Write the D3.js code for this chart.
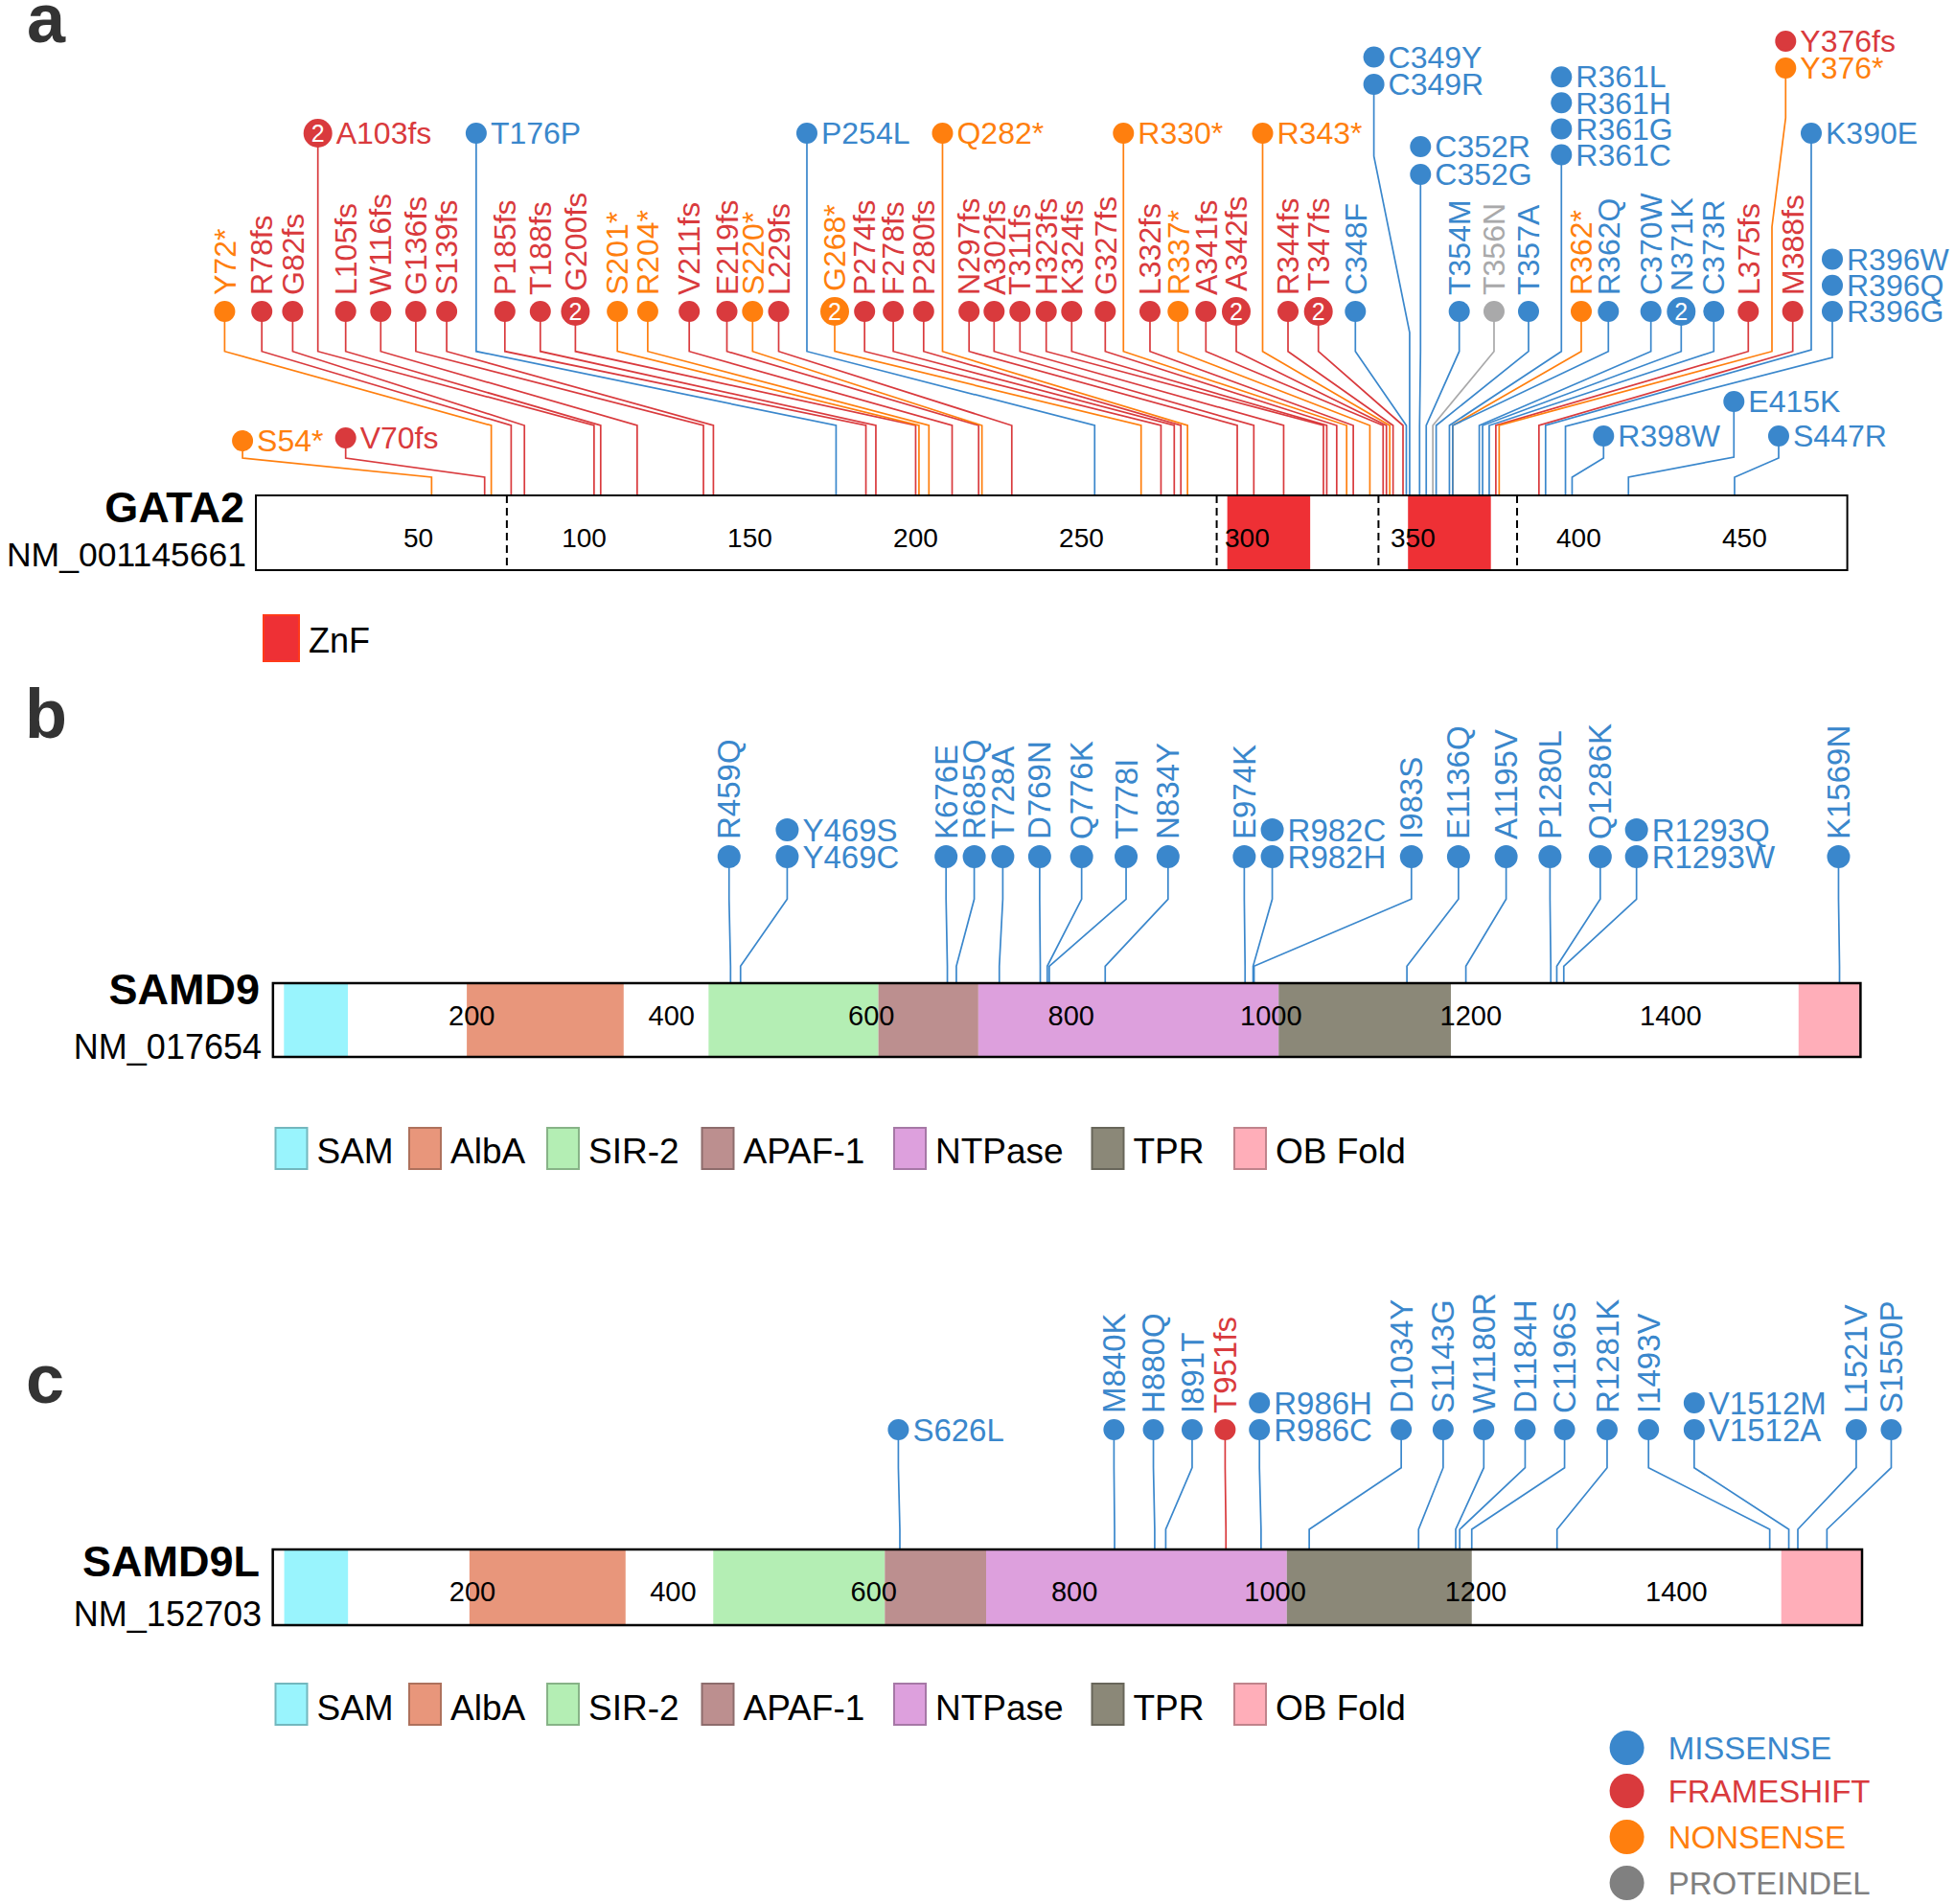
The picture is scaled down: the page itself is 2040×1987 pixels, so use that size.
<!DOCTYPE html>
<html><head><meta charset="utf-8">
<script src="https://cdn.jsdelivr.net/npm/d3@7"></script>
<style>
body{margin:0;background:#fff}
svg{display:block}
text{font-family:"Liberation Sans",Arial,Helvetica,sans-serif}
</style>
</head><body>
<svg id="chart" width="2040" height="1987"></svg>
<script>
// ================= DATA =================
const mutationTypes = ["MISSENSE", "FRAMESHIFT", "NONSENSE", "PROTEINDEL"];

// ---- GATA2 (NM_001145661) ----
const gata2Length = 480;
const gata2Ticks = [50, 100, 150, 200, 250, 300, 350, 400, 450];
const gata2Domains = [["ZnF", 294, 319], ["ZnF", 348.5, 373.5]];
const gata2ExonBreaks = [76.7, 290.8, 339.6, 381.4];
// [label, amino-acid position, type, number of cases]
const gata2Mutations = [
  ["S54*", 54, "NONSENSE", 1], ["V70fs", 70, "FRAMESHIFT", 1], ["Y72*", 72, "NONSENSE", 1],
  ["R78fs", 78, "FRAMESHIFT", 1], ["G82fs", 82, "FRAMESHIFT", 1], ["A103fs", 103, "FRAMESHIFT", 2],
  ["L105fs", 105, "FRAMESHIFT", 1], ["W116fs", 116, "FRAMESHIFT", 1], ["G136fs", 136, "FRAMESHIFT", 1],
  ["S139fs", 139, "FRAMESHIFT", 1], ["T176P", 176, "MISSENSE", 1], ["P185fs", 185, "FRAMESHIFT", 1],
  ["T188fs", 188, "FRAMESHIFT", 1], ["G200fs", 200, "FRAMESHIFT", 2], ["S201*", 201, "NONSENSE", 1],
  ["R204*", 204, "NONSENSE", 1], ["V211fs", 211, "FRAMESHIFT", 1], ["E219fs", 219, "FRAMESHIFT", 1],
  ["S220*", 220, "NONSENSE", 1], ["L229fs", 229, "FRAMESHIFT", 1], ["P254L", 254, "MISSENSE", 1],
  ["G268*", 268, "NONSENSE", 2], ["P274fs", 274, "FRAMESHIFT", 1], ["F278fs", 278, "FRAMESHIFT", 1],
  ["P280fs", 280, "FRAMESHIFT", 1], ["Q282*", 282, "NONSENSE", 1], ["N297fs", 297, "FRAMESHIFT", 1],
  ["A302fs", 302, "FRAMESHIFT", 1], ["T311fs", 311, "FRAMESHIFT", 1], ["H323fs", 323, "FRAMESHIFT", 1],
  ["K324fs", 324, "FRAMESHIFT", 1], ["G327fs", 327, "FRAMESHIFT", 1], ["R330*", 330, "NONSENSE", 1],
  ["L332fs", 332, "FRAMESHIFT", 1], ["R337*", 337, "NONSENSE", 1], ["A341fs", 341, "FRAMESHIFT", 1],
  ["A342fs", 342, "FRAMESHIFT", 2], ["R343*", 343, "NONSENSE", 1], ["R344fs", 344, "FRAMESHIFT", 1],
  ["T347fs", 347, "FRAMESHIFT", 2], ["C348F", 348, "MISSENSE", 1], ["C349Y", 349, "MISSENSE", 1],
  ["C349R", 349, "MISSENSE", 1], ["C352R", 352, "MISSENSE", 1], ["C352G", 352, "MISSENSE", 1],
  ["T354M", 354, "MISSENSE", 1], ["T356N", 356, "PROTEINDEL", 1], ["T357A", 357, "MISSENSE", 1],
  ["R361L", 361, "MISSENSE", 1], ["R361H", 361, "MISSENSE", 1], ["R361G", 361, "MISSENSE", 1],
  ["R361C", 361, "MISSENSE", 1], ["R362*", 362, "NONSENSE", 1], ["R362Q", 362, "MISSENSE", 1],
  ["C370W", 370, "MISSENSE", 1], ["N371K", 371, "MISSENSE", 2], ["C373R", 373, "MISSENSE", 1],
  ["L375fs", 375, "FRAMESHIFT", 1], ["Y376fs", 376, "FRAMESHIFT", 1], ["Y376*", 376, "NONSENSE", 1],
  ["M388fs", 388, "FRAMESHIFT", 1], ["K390E", 390, "MISSENSE", 1], ["R396W", 396, "MISSENSE", 1],
  ["R396Q", 396, "MISSENSE", 1], ["R396G", 396, "MISSENSE", 1], ["R398W", 398, "MISSENSE", 1],
  ["E415K", 415, "MISSENSE", 1], ["S447R", 447, "MISSENSE", 1]
];

// ---- SAMD9 (NM_017654) ----
const samd9Length = 1589;
const samdTicks = [200, 400, 600, 800, 1000, 1200, 1400];
const samd9Domains = [["SAM", 12, 76], ["AlbA", 195, 352], ["SIR-2", 437, 607], ["APAF-1", 607, 707],
  ["NTPase", 707, 1007.6], ["TPR", 1007.6, 1180], ["OB Fold", 1528, 1590]];
const samd9Mutations = [
  ["R459Q", 459, "MISSENSE", 1], ["Y469S", 469, "MISSENSE", 1], ["Y469C", 469, "MISSENSE", 1],
  ["K676E", 676, "MISSENSE", 1], ["R685Q", 685, "MISSENSE", 1], ["T728A", 728, "MISSENSE", 1],
  ["D769N", 769, "MISSENSE", 1], ["Q776K", 776, "MISSENSE", 1], ["T778I", 778, "MISSENSE", 1],
  ["N834Y", 834, "MISSENSE", 1], ["E974K", 974, "MISSENSE", 1], ["R982C", 982, "MISSENSE", 1],
  ["R982H", 982, "MISSENSE", 1], ["I983S", 983, "MISSENSE", 1], ["E1136Q", 1136, "MISSENSE", 1],
  ["A1195V", 1195, "MISSENSE", 1], ["P1280L", 1280, "MISSENSE", 1], ["Q1286K", 1286, "MISSENSE", 1],
  ["R1293Q", 1293, "MISSENSE", 1], ["R1293W", 1293, "MISSENSE", 1], ["K1569N", 1569, "MISSENSE", 1]
];

// ---- SAMD9L (NM_152703) ----
const samd9lLength = 1584;
const samd9lDomains = [["SAM", 12.4, 76], ["AlbA", 197, 352.6], ["SIR-2", 440, 611], ["APAF-1", 611, 712],
  ["NTPase", 712, 1011.7], ["TPR", 1011.7, 1196], ["OB Fold", 1504.5, 1585]];
const samd9lMutations = [
  ["S626L", 626, "MISSENSE", 1], ["M840K", 840, "MISSENSE", 1], ["H880Q", 880, "MISSENSE", 1],
  ["I891T", 891, "MISSENSE", 1], ["T951fs", 951, "FRAMESHIFT", 1], ["R986H", 986, "MISSENSE", 1],
  ["R986C", 986, "MISSENSE", 1], ["D1034Y", 1034, "MISSENSE", 1], ["S1143G", 1143, "MISSENSE", 1],
  ["W1180R", 1180, "MISSENSE", 1], ["D1184H", 1184, "MISSENSE", 1], ["C1196S", 1196, "MISSENSE", 1],
  ["R1281K", 1281, "MISSENSE", 1], ["I1493V", 1493, "MISSENSE", 1], ["V1512M", 1512, "MISSENSE", 1],
  ["V1512A", 1512, "MISSENSE", 1], ["L1521V", 1521, "MISSENSE", 1], ["S1550P", 1550, "MISSENSE", 1]
];

const domainLegend = ["SAM", "AlbA", "SIR-2", "APAF-1", "NTPase", "TPR", "OB Fold"];

// ================= STYLE / LAYOUT =================
const typeColor = {MISSENSE: "#3a87cc", FRAMESHIFT: "#d93a3d", NONSENSE: "#ff7f0e", PROTEINDEL: "#a9a9aa"};
const legendColor = {MISSENSE: "#3a87cc", FRAMESHIFT: "#d93a3d", NONSENSE: "#ff7f0e", PROTEINDEL: "#808080"};
const domainColor = {"ZnF": "#ee3035", "SAM": "#99f4fd", "AlbA": "#e8967b", "SIR-2": "#b4eeb4",
  "APAF-1": "#bc8f8f", "NTPase": "#dda0dd", "TPR": "#8b8878", "OB Fold": "#ffaeb9"};

// label-head layout (head anchor expressed in protein coordinates, mapped by the same scale)
const gata2Layout = [
  // main row (rotated labels)
  {ids: ["Y72*"], at: -8.42, row: "main"}, {ids: ["R78fs"], at: 2.79, row: "main"},
  {ids: ["G82fs"], at: 12.10, row: "main"}, {ids: ["L105fs"], at: 28.08, row: "main"},
  {ids: ["W116fs"], at: 38.66, row: "main"}, {ids: ["G136fs"], at: 49.24, row: "main"},
  {ids: ["S139fs"], at: 58.55, row: "main"}, {ids: ["P185fs"], at: 76.10, row: "main"},
  {ids: ["T188fs"], at: 86.79, row: "main"}, {ids: ["G200fs"], at: 97.37, row: "main"},
  {ids: ["S201*"], at: 110.03, row: "main"}, {ids: ["R204*"], at: 119.19, row: "main"},
  {ids: ["V211fs"], at: 131.71, row: "main"}, {ids: ["E219fs"], at: 143.07, row: "main"},
  {ids: ["S220*"], at: 150.82, row: "main"}, {ids: ["L229fs"], at: 158.68, row: "main"},
  {ids: ["G268*"], at: 175.59, row: "main"}, {ids: ["P274fs"], at: 184.60, row: "main"},
  {ids: ["F278fs"], at: 193.25, row: "main"}, {ids: ["P280fs"], at: 202.41, row: "main"},
  {ids: ["N297fs"], at: 216.11, row: "main"}, {ids: ["A302fs"], at: 223.66, row: "main"},
  {ids: ["T311fs"], at: 231.46, row: "main"}, {ids: ["H323fs"], at: 239.38, row: "main"},
  {ids: ["K324fs"], at: 247.07, row: "main"}, {ids: ["G327fs"], at: 257.19, row: "main"},
  {ids: ["L332fs"], at: 270.68, row: "main"}, {ids: ["R337*"], at: 279.16, row: "main"},
  {ids: ["A341fs"], at: 287.54, row: "main"}, {ids: ["A342fs"], at: 296.70, row: "main"},
  {ids: ["R344fs"], at: 312.31, row: "main"}, {ids: ["T347fs"], at: 321.47, row: "main"},
  {ids: ["C348F"], at: 332.63, row: "main"}, {ids: ["T354M"], at: 363.96, row: "main"},
  {ids: ["T356N"], at: 374.45, row: "main"}, {ids: ["T357A"], at: 384.86, row: "main"},
  {ids: ["R362*"], at: 400.76, row: "main"}, {ids: ["R362Q"], at: 408.94, row: "main"},
  {ids: ["C370W"], at: 421.77, row: "main"}, {ids: ["N371K"], at: 430.91, row: "main"},
  {ids: ["C373R"], at: 440.73, row: "main"}, {ids: ["L375fs"], at: 451.14, row: "main"},
  {ids: ["M388fs"], at: 464.55, row: "main"},
  {ids: ["R396W", "R396Q", "R396G"], at: 476.49, row: "main", rot: false, gap: 27.3, y1: 373, y2: 445},
  // top row (horizontal labels)
  {ids: ["A103fs"], at: 19.70, row: "top"}, {ids: ["T176P"], at: 67.45, row: "top"},
  {ids: ["P254L"], at: 167.20, row: "top"}, {ids: ["Q282*"], at: 208.10, row: "top"},
  {ids: ["R330*"], at: 262.67, row: "top"}, {ids: ["R343*"], at: 304.65, row: "top"},
  {ids: ["K390E"], at: 470.13, row: "top", y1: 365},
  {ids: ["C349Y", "C349R"], at: 338.21, row: "top", hy: 88, gap: 28.5, y1: 163, y2: 347},
  {ids: ["C352R", "C352G"], at: 352.28, row: "top", hy: 182, gap: 29},
  {ids: ["R361L", "R361H", "R361G", "R361C"], at: 394.77, row: "top", hy: 161.5, gap: 27.1},
  {ids: ["Y376fs", "Y376*"], at: 462.41, row: "top", hy: 71, gap: 28,
   via: [[462.41, 123], [458.28, 236.7], [458.28, 366.7]]},
  // low row
  {ids: ["S54*"], at: -3.02, row: "low", hy: 460}, {ids: ["V70fs"], at: 28.08, row: "low", hy: 457},
  {ids: ["R398W"], at: 407.49, row: "low", hy: 455}, {ids: ["E415K"], at: 446.80, row: "low", hy: 419, y1: 477},
  {ids: ["S447R"], at: 460.30, row: "low", hy: 455}
];

const samd9Layout = [
  {ids: ["R459Q"], at: 457.5}, {ids: ["Y469S", "Y469C"], at: 515.7, rot: false},
  {ids: ["K676E"], at: 674.7}, {ids: ["R685Q"], at: 702.9}, {ids: ["T728A"], at: 731.5},
  {ids: ["D769N"], at: 768.4}, {ids: ["Q776K"], at: 810.4}, {ids: ["T778I"], at: 854.9},
  {ids: ["N834Y"], at: 896.9}, {ids: ["E974K"], at: 973.2}, {ids: ["R982C", "R982H"], at: 1001.2, rot: false},
  {ids: ["I983S"], at: 1140.5}, {ids: ["E1136Q"], at: 1187.6}, {ids: ["A1195V"], at: 1235.3},
  {ids: ["P1280L"], at: 1279.2}, {ids: ["Q1286K"], at: 1329.5},
  {ids: ["R1293Q", "R1293W"], at: 1365.8, rot: false}, {ids: ["K1569N"], at: 1568}
];

const samd9lLayout = [
  {ids: ["S626L"], at: 624.5, rot: false}, {ids: ["M840K"], at: 839.4}, {ids: ["H880Q"], at: 878.7},
  {ids: ["I891T"], at: 917.3}, {ids: ["T951fs"], at: 950.2}, {ids: ["R986H", "R986C"], at: 984.4, rot: false},
  {ids: ["D1034Y"], at: 1125.7}, {ids: ["S1143G"], at: 1167.5}, {ids: ["W1180R"], at: 1208},
  {ids: ["D1184H"], at: 1249.2}, {ids: ["C1196S"], at: 1288.5}, {ids: ["R1281K"], at: 1330.9},
  {ids: ["I1493V"], at: 1372.2}, {ids: ["V1512M", "V1512A"], at: 1417.7, rot: false},
  {ids: ["L1521V"], at: 1579.2}, {ids: ["S1550P"], at: 1614.1}
];

const svg = d3.select("#chart");

function drawPanel(p) {
  const x = p.scale;
  const g = svg.append("g");
  const byId = new Map(p.mutations.map(d => [d[0], {label: d[0], pos: d[1], type: d[2], count: d[3]}]));
  const gStem = g.append("g"), gBar = g.append("g"), gHead = g.append("g");
  const line = d3.line();

  p.layout.forEach(item => {
    const row = p.rows[item.row || "main"];
    const hyBase = item.hy !== undefined ? item.hy : row.hy;
    const gap = item.gap || 28;
    const rot = item.rot !== undefined ? item.rot : row.rot;
    const y1 = item.y1 !== undefined ? item.y1 : row.y1;
    const y2 = item.y2 !== undefined ? item.y2 : row.y2;
    const hx = x(item.at);
    const n = item.ids.length;
    const bottom = byId.get(item.ids[n - 1]);
    const xp = x(bottom.pos);
    const pts = [[hx, hyBase]];
    if (item.via) item.via.forEach(([a, yy]) => pts.push([x(a), yy]));
    else pts.push([hx, y1]);
    pts.push([xp, y2], [xp, p.barTop]);
    gStem.append("path").attr("d", line(pts)).attr("fill", "none")
      .attr("stroke", typeColor[bottom.type]).attr("stroke-width", 1.7);

    item.ids.forEach((id, i) => {
      const m = byId.get(id);
      const hy = hyBase - (n - 1 - i) * gap;
      const col = typeColor[m.type];
      const r = m.count > 1 ? p.rBig : p.r;
      gHead.append("circle").attr("cx", hx).attr("cy", hy).attr("r", r).attr("fill", col);
      if (m.count > 1) {
        gHead.append("text").attr("x", hx).attr("y", hy).attr("dy", "0.36em")
          .attr("text-anchor", "middle").attr("font-size", 25).attr("fill", "#fff").text(m.count);
      }
      if (rot) {
        gHead.append("text")
          .attr("transform", `translate(${hx},${hy - r - 6}) rotate(-90)`)
          .attr("dy", "0.35em").attr("font-size", p.fs).attr("fill", col).text(m.label);
      } else {
        gHead.append("text").attr("x", hx + r + 4).attr("y", hy).attr("dy", "0.35em")
          .attr("font-size", p.fs).attr("fill", col).text(m.label);
      }
    });
  });

  // protein bar
  const x0 = x(1), x1 = x(p.length + 1);
  gBar.append("rect").attr("x", x0).attr("y", p.barTop).attr("width", x1 - x0)
    .attr("height", p.barBottom - p.barTop).attr("fill", "#fff");
  gBar.selectAll("rect.dom").data(p.domains).join("rect").attr("class", "dom")
    .attr("x", d => x(d[1])).attr("y", p.barTop)
    .attr("width", d => x(d[2]) - x(d[1])).attr("height", p.barBottom - p.barTop)
    .attr("fill", d => domainColor[d[0]]);
  if (p.breaks) {
    gBar.selectAll("line.br").data(p.breaks).join("line").attr("class", "br")
      .attr("x1", d => x(d)).attr("x2", d => x(d)).attr("y1", p.barTop).attr("y2", p.barBottom)
      .attr("stroke", "#000").attr("stroke-width", 2).attr("stroke-dasharray", "8,5");
  }
  gBar.selectAll("text.tick").data(p.ticks).join("text").attr("class", "tick")
    .attr("x", d => x(d)).attr("y", p.tickY).attr("text-anchor", "middle")
    .attr("font-size", p.tickFs).attr("fill", "#000").text(d => d);
  gBar.append("rect").attr("x", x0).attr("y", p.barTop).attr("width", x1 - x0)
    .attr("height", p.barBottom - p.barTop).attr("fill", "none")
    .attr("stroke", "#000").attr("stroke-width", p.barStroke);

  // gene name + transcript
  g.append("text").attr("x", p.nameX).attr("y", p.nameY).attr("text-anchor", "end")
    .attr("font-size", 45).attr("font-weight", "bold").attr("fill", "#000").text(p.gene);
  g.append("text").attr("x", p.nameX + 2).attr("y", p.nmY).attr("text-anchor", "end")
    .attr("font-size", p.nmFs).attr("fill", "#000").text(p.transcript);
}

// Panel a
drawPanel({
  gene: "GATA2", transcript: "NM_001145661", length: gata2Length,
  scale: d3.scaleLinear().domain([1, gata2Length + 1]).range([267, 1927.6]),
  mutations: gata2Mutations, layout: gata2Layout, domains: gata2Domains, breaks: gata2ExonBreaks,
  ticks: gata2Ticks, tickY: 571, tickFs: 28, barTop: 517, barBottom: 595, barStroke: 2,
  rows: {main: {hy: 325, y1: 366.7, y2: 444, rot: true}, top: {hy: 139, y1: 366.7, y2: 444, rot: false},
         low: {hy: 457, y1: 478, y2: 498, rot: false}},
  r: 11, rBig: 15, fs: 32, nameX: 255, nameY: 545, nmY: 591, nmFs: 35.5
});

// Panel b
drawPanel({
  gene: "SAMD9", transcript: "NM_017654", length: samd9Length,
  scale: d3.scaleLinear().domain([0, samd9Length + 1]).range([283.8, 1941.4]),
  mutations: samd9Mutations, layout: samd9Layout, domains: samd9Domains,
  ticks: samdTicks, tickY: 1070, tickFs: 29, barTop: 1026, barBottom: 1103, barStroke: 2.5,
  rows: {main: {hy: 894, y1: 938.3, y2: 1008.3, rot: true}},
  r: 12, rBig: 15, fs: 33, nameX: 271, nameY: 1048, nmY: 1105, nmFs: 36
});

// Panel c
drawPanel({
  gene: "SAMD9L", transcript: "NM_152703", length: samd9lLength,
  scale: d3.scaleLinear().domain([0, samd9lLength + 1]).range([283.6, 1943]),
  mutations: samd9lMutations, layout: samd9lLayout, domains: samd9lDomains,
  ticks: samdTicks, tickY: 1671, tickFs: 29, barTop: 1617, barBottom: 1696, barStroke: 2.5,
  rows: {main: {hy: 1492, y1: 1531.7, y2: 1596, rot: true}},
  r: 11, rBig: 15, fs: 33, nameX: 271, nameY: 1645, nmY: 1697, nmFs: 36
});

// panel letters
[["a", 28, 44], ["b", 26, 770], ["c", 27, 1464]].forEach(([t, lx, ly]) => {
  svg.append("text").attr("x", lx).attr("y", ly).attr("font-size", 72).attr("font-weight", "bold")
    .attr("fill", "#333").text(t);
});

// ZnF legend
svg.append("rect").attr("x", 275).attr("y", 642).attr("width", 37).attr("height", 48)
  .attr("fill", domainColor["ZnF"]).attr("stroke", "#ff3a1a").attr("stroke-width", 2);
svg.append("text").attr("x", 322).attr("y", 681).attr("font-size", 36).attr("fill", "#000").text("ZnF");

// domain legends
const legendRectX = [287.5, 427, 571, 732.5, 933, 1139.5, 1288];
[[1177, 1214], [1757, 1795]].forEach(([ry, ty]) => {
  domainLegend.forEach((name, i) => {
    const c = domainColor[name];
    svg.append("rect").attr("x", legendRectX[i]).attr("y", ry).attr("width", 33).attr("height", 43)
      .attr("fill", c).attr("stroke", d3.color(c).darker(0.8)).attr("stroke-width", 2);
    svg.append("text").attr("x", legendRectX[i] + 43).attr("y", ty).attr("font-size", 37)
      .attr("fill", "#000").text(name);
  });
});

// mutation type legend
const typeLegendY = [1824, 1869, 1917, 1965];
mutationTypes.forEach((t, i) => {
  svg.append("circle").attr("cx", 1697.6).attr("cy", typeLegendY[i]).attr("r", 18).attr("fill", legendColor[t]);
  svg.append("text").attr("x", 1740.7).attr("y", typeLegendY[i]).attr("dy", "0.36em")
    .attr("font-size", 33).attr("fill", legendColor[t]).text(t);
});
</script>
</body></html>
